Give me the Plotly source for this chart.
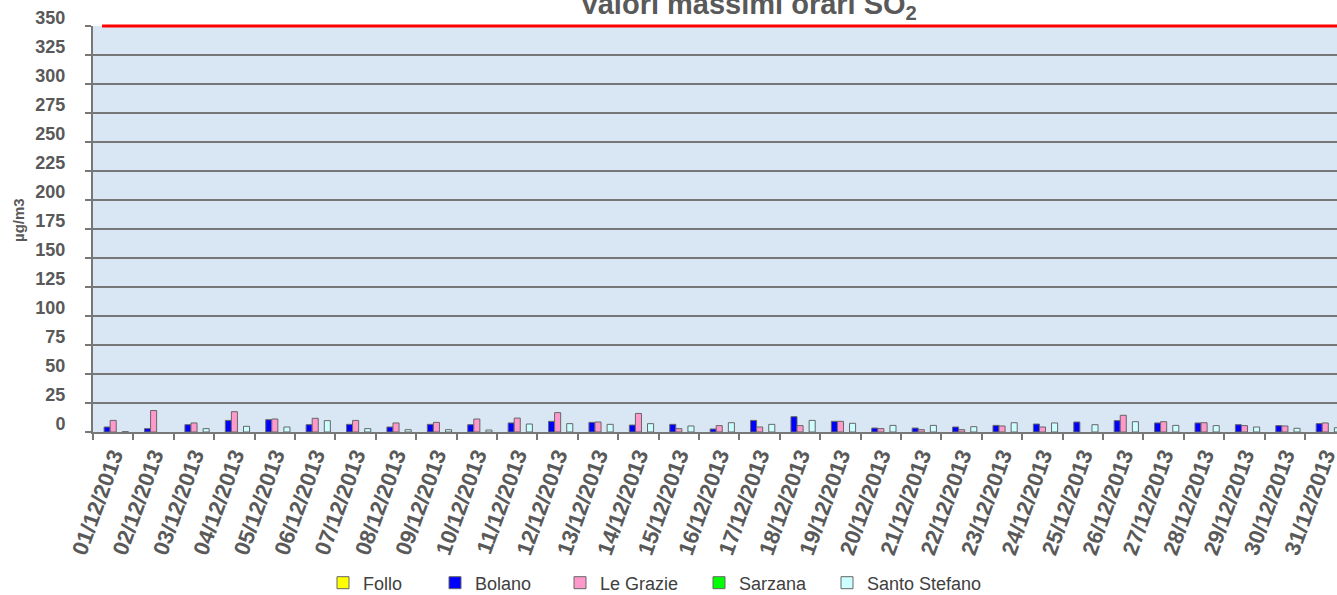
import plotly.graph_objects as go

dates = [f"{d:02d}/12/2013" for d in range(1, 32)]

follo = [None] * 31
bolano = [4.3, 2.9, 6.3, 10.0, 10.6, 6.3, 6.6, 4.3, 6.6, 6.3, 7.8, 9.2, 8.3, 6.0, 6.6,
          2.6, 10.0, 13.2, 9.2, 3.4, 3.4, 4.3, 5.7, 6.9, 8.6, 9.8, 7.8, 7.8, 6.3, 5.5, 7.2]
le_grazie = [10.0, 18.5, 7.8, 17.5, 11.2, 11.8, 10.0, 7.8, 8.3, 11.2, 12.0, 16.7, 8.6, 16.0, 2.9,
             5.5, 4.3, 5.5, 9.2, 2.9, 2.0, 2.0, 5.2, 4.3, None, 14.4, 8.9, 8.0, 5.5, 5.2, 7.8]
sarzana = [None] * 31
santo_stefano = [0.3, None, 2.9, 4.9, 4.3, 9.8, 2.9, 2.0, 2.0, 1.7, 6.9, 7.2, 6.6, 7.2, 5.2,
                 8.0, 6.6, 10.0, 7.5, 5.7, 5.7, 4.6, 8.0, 7.8, 6.3, 8.9, 5.7, 5.5, 4.3, 3.2, 3.7]

series_names = ["Follo", "Bolano", "Le Grazie", "Sarzana", "Santo Stefano"]
series_values = [follo, bolano, le_grazie, sarzana, santo_stefano]
series_colors = ["#ffff00", "#0000ff", "#ff99cc", "#00ff00", "#ccffff"]

LIMIT = 350
Y_MAX = 350
y_ticks = list(range(0, Y_MAX + 1, 25))

FONT = "Liberation Sans, Arial, sans-serif"
GRAY = "#595959"
LINE = "#777777"

fig = go.Figure()
legend_ids = ["legend", "legend2", "legend3", "legend4", "legend5"]
for name, vals, col, lid in zip(series_names, series_values, series_colors, legend_ids):
    fig.add_trace(go.Bar(
        x=dates, y=vals, name=name, legend=lid,
        marker=dict(color=col, line=dict(color="#666666", width=1)),
    ))

# plot area: x 93..1337, y 26..432
W, H = 1337, 595
L, R, T, B = 93, 0, 26, 163
pw = W - L - R
ph = H - T - B

def px_to_paper_x(px):
    return (px - L) / pw

def px_to_paper_y(py):
    return (H - B - py) / ph

legend_text_start = [367, 479, 604, 743, 871]
legend_common = dict(orientation="h", font=dict(family=FONT, size=18, color="#404040"),
                     bgcolor="rgba(0,0,0,0)", yanchor="middle", xanchor="left",
                     itemwidth=30, tracegroupgap=0)
layout_legends = {}
for lid, ts in zip(legend_ids, legend_text_start):
    layout_legends[lid] = dict(x=px_to_paper_x(ts - 44), y=px_to_paper_y(583), **legend_common)

fig.update_layout(
    width=W, height=H,
    margin=dict(l=L, r=R, t=T, b=B, autoexpand=False),
    paper_bgcolor="white",
    plot_bgcolor="#d9e7f5",
    barmode="group",
    bargap=0.25,
    bargroupgap=0,
    showlegend=True,
    **layout_legends,
)

fig.update_xaxes(
    type="category",
    range=[-0.5, 30.29],
    tickson="boundaries",
    ticks="outside", ticklen=6, tickcolor=LINE, tickwidth=1.5,
    showline=True, linecolor=LINE, linewidth=2,
    showgrid=False,
    tickangle=-70,
    automargin=False,
    tickfont=dict(family=FONT, size=22, color=GRAY, weight="bold"),
)
fig.update_yaxes(
    range=[0, Y_MAX],
    tickvals=y_ticks,
    showgrid=True, gridcolor=LINE, gridwidth=1.5,
    showline=True, linecolor=LINE, linewidth=2,
    ticks="outside", ticklen=6, tickcolor=LINE, tickwidth=1.5,
    tickfont=dict(family=FONT, size=18, color=GRAY, weight="bold"),
    ticklabelstandoff=16,
    ticklabelshift=-8,
    zeroline=False,
    automargin=False,
)

# y axis title
fig.add_annotation(
    text="µg/m3", textangle=-90,
    xref="paper", yref="paper",
    x=px_to_paper_x(18), y=px_to_paper_y(220),
    xanchor="center", yanchor="middle", showarrow=False,
    font=dict(family=FONT, size=15, color=GRAY, weight="bold"),
)

# limit line (drawn in paper space so it is not clipped at the top edge)
fig.add_shape(type="line", xref="paper", yref="paper",
              x0=px_to_paper_x(102), x1=1, y0=LIMIT / Y_MAX, y1=LIMIT / Y_MAX,
              line=dict(color="#ff0000", width=3), layer="above")

fig.add_annotation(
    text="Valori massimi orari SO<sub>2</sub>",
    xref="paper", yref="paper",
    x=px_to_paper_x(749), y=px_to_paper_y(6),
    xanchor="center", yanchor="middle", showarrow=False,
    font=dict(family=FONT, size=29, color=GRAY, weight="bold"),
)

fig.write_html(
    "out.html",
    config={"displayModeBar": False},
    post_script="document.body.style.margin='0';document.body.style.overflow='hidden';",
)
